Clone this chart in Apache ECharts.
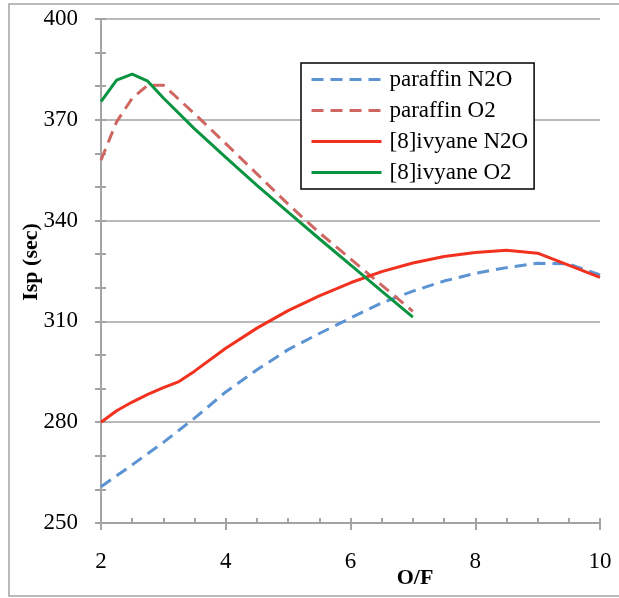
<!DOCTYPE html>
<html>
<head>
<meta charset="utf-8">
<script src="https://cdn.jsdelivr.net/npm/echarts@6/dist/echarts.min.js"></script>
<style>
  html, body { margin: 0; padding: 0; background: #fff; }
  #chart { width: 619px; height: 598px; }
</style>
</head>
<body>
<div id="chart"></div>
<script>
// O/F ratios and specific impulse (sec) for each propellant pair
const paraffinN2O_of  = [2, 2.5, 3, 3.5, 4, 4.5, 5, 5.5, 6, 6.5, 7, 7.5, 8, 8.5, 9, 9.5, 10];
const paraffinN2O_isp = [260.8, 267.3, 274.0, 281.2, 289.0, 295.6, 301.6, 306.4, 311.0, 315.5, 319.0, 322.0, 324.3, 326.0, 327.3, 327.1, 323.8];

const paraffinO2_of  = [2, 2.25, 2.5, 2.75, 3, 3.5, 4, 4.5, 5, 5.5, 6, 6.5, 7];
const paraffinO2_isp = [358.0, 369.4, 376.4, 380.3, 380.3, 371.8, 362.9, 353.9, 344.9, 336.4, 328.6, 320.8, 313.0];

const ivyaneN2O_of  = [2, 2.25, 2.5, 2.75, 3, 3.25, 3.5, 4, 4.5, 5, 5.5, 6, 6.5, 7, 7.5, 8, 8.5, 9, 10];
const ivyaneN2O_isp = [280.0, 283.4, 286.0, 288.3, 290.3, 292.1, 295.2, 302.0, 308.0, 313.2, 317.6, 321.5, 324.8, 327.4, 329.3, 330.5, 331.2, 330.3, 323.1];

const ivyaneO2_of  = [2, 2.25, 2.5, 2.75, 3, 3.5, 4, 4.5, 5, 5.5, 6, 6.5, 7];
const ivyaneO2_isp = [375.4, 381.8, 383.6, 381.5, 376.5, 367.3, 358.8, 350.5, 342.5, 334.6, 326.8, 319.0, 311.3];

const seriesNames = ['paraffin N2O', 'paraffin O2', '[8]ivyane N2O', '[8]ivyane O2'];

const xMin = 2, xMax = 10, xMajor = 2, xMinor = 0.5;
const yMin = 250, yMax = 400, yMajor = 30, yMinor = 10;

const pairs = (xs, ys) => xs.map((x, i) => [x, ys[i]]);

const GRAY = '#a3a3a3';
const SERIF = '"Liberation Serif", "Times New Roman", serif';

function lineSeries(name, data, color, dashed) {
  return {
    name: name,
    type: 'line',
    data: data,
    xAxisIndex: 0,
    yAxisIndex: 0,
    symbol: 'none',
    smooth: false,
    lineStyle: { color: color, width: 3, type: dashed ? [12, 7] : 'solid' },
    itemStyle: { color: color },
    z: 5
  };
}

const chart = echarts.init(document.getElementById('chart'), null, { renderer: 'canvas' });

chart.setOption({
  animation: false,
  backgroundColor: '#fff',
  grid: { left: 101, right: 19, top: 19, bottom: 75, containLabel: false },
  xAxis: [
    {
      type: 'value', min: xMin, max: xMax, interval: xMajor, position: 'bottom',
      axisLine: { show: true, lineStyle: { color: GRAY, width: 2 } },
      axisTick: { show: true, length: 7, lineStyle: { color: GRAY, width: 2 } },
      axisLabel: { show: true, margin: 27, color: '#000', fontFamily: SERIF, fontSize: 23 },
      splitLine: { show: false }
    },
    {
      type: 'value', min: xMin, max: xMax, interval: xMinor, position: 'bottom',
      axisLine: { show: false },
      axisTick: { show: true, inside: true, length: 5, lineStyle: { color: GRAY, width: 2 } },
      axisLabel: { show: false },
      splitLine: { show: false }
    }
  ],
  yAxis: [
    {
      type: 'value', min: yMin, max: yMax, interval: yMajor, position: 'left',
      axisLine: { show: true, lineStyle: { color: GRAY, width: 2 } },
      axisTick: { show: false },
      axisLabel: { show: true, margin: 23, color: '#000', fontFamily: SERIF, fontSize: 23 },
      splitLine: { show: true, lineStyle: { color: GRAY, width: 1.5 } }
    },
    {
      type: 'value', min: yMin, max: yMax, interval: yMinor, position: 'left',
      axisLine: { show: false },
      axisTick: { show: true, length: 6, lineStyle: { color: GRAY, width: 2 } },
      axisLabel: { show: false },
      splitLine: { show: false }
    },
    {
      type: 'value', min: yMin, max: yMax, interval: yMinor, position: 'left',
      axisLine: { show: false },
      axisTick: { show: true, inside: true, length: 5, lineStyle: { color: GRAY, width: 2 } },
      axisLabel: { show: false },
      splitLine: { show: false }
    }
  ],
  legend: {
    orient: 'vertical',
    left: 301,
    top: 63,
    padding: [5, 6, 5, 9],
    itemWidth: 70,
    itemHeight: 14,
    itemGap: 8,
    backgroundColor: '#fff',
    borderColor: '#000',
    borderWidth: 1.5,
    borderRadius: 0,
    data: seriesNames,
    itemStyle: { opacity: 0 },
    lineStyle: { width: 3 },
    textStyle: { color: '#000', fontFamily: SERIF, fontSize: 23, lineHeight: 22, padding: [0, 0, 0, 3] }
  },
  graphic: [
    {
      type: 'rect', z: 0, silent: true,
      shape: { x: 9, y: 4, width: 640, height: 592 },
      style: { fill: 'none', stroke: GRAY, lineWidth: 1.5 }
    },
    {
      type: 'text', silent: true,
      x: 31, y: 262, rotation: Math.PI / 2,
      style: { text: 'Isp (sec)', fill: '#000', font: 'bold 22px ' + SERIF, align: 'center', verticalAlign: 'middle' }
    },
    {
      type: 'text', silent: true,
      x: 415, y: 578,
      style: { text: 'O/F', fill: '#000', font: 'bold 22px ' + SERIF, align: 'center', verticalAlign: 'middle' }
    }
  ],
  series: [
    lineSeries(seriesNames[0], pairs(paraffinN2O_of, paraffinN2O_isp), '#5b93d3', true),
    lineSeries(seriesNames[1], pairs(paraffinO2_of, paraffinO2_isp), '#cf6661', true),
    lineSeries(seriesNames[2], pairs(ivyaneN2O_of, ivyaneN2O_isp), '#f2311f', false),
    lineSeries(seriesNames[3], pairs(ivyaneO2_of, ivyaneO2_isp), '#0a9441', false)
  ]
});
</script>
</body>
</html>
